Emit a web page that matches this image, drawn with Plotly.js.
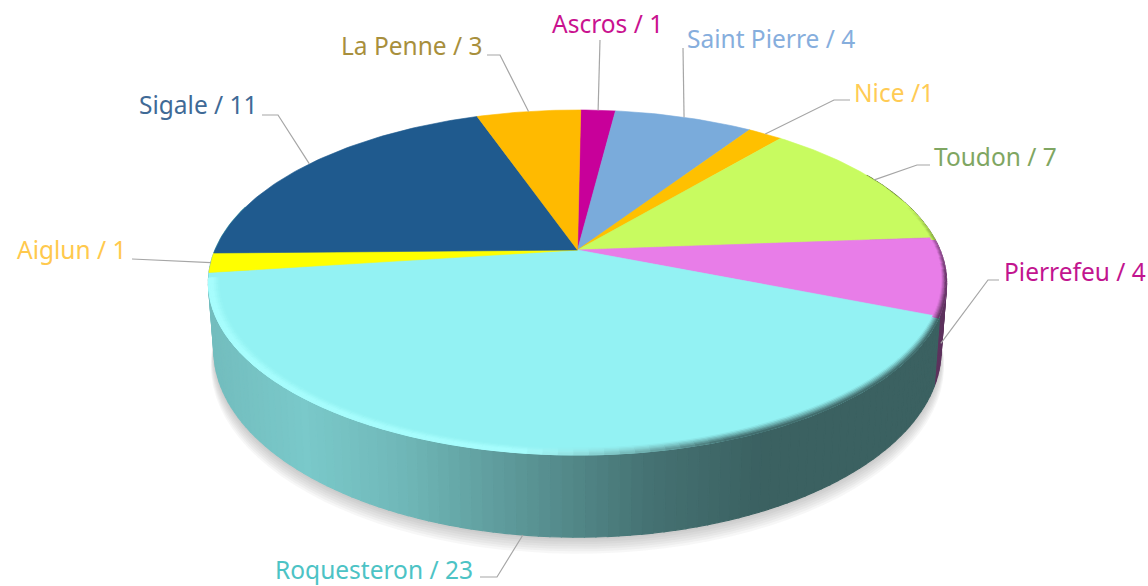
<!DOCTYPE html>
<html>
<head>
<meta charset="utf-8">
<script src="https://cdn.plot.ly/plotly-3.0.1.min.js"></script>
<style>html,body{margin:0;padding:0;background:#fff;overflow:hidden}#chart{width:1148px;height:586px}</style>
</head>
<body>
<div id="chart"></div>
<script>
// ---- data ----
var places = ["Ascros","Saint Pierre","Nice","Toudon","Pierrefeu","Roquesteron","Aiglun","Sigale","La Penne"];
var counts = [1,4,1,7,4,23,1,11,3];
var labels = ["Ascros / 1","Saint Pierre / 4","Nice /1","Toudon / 7","Pierrefeu / 4","Roquesteron / 23","Aiglun / 1","Sigale / 11","La Penne / 3"];
// ---- style ----
var sliceColors = ["#c8009a","#7aabdb","#ffc000","#c8fb60","#e87de8","#93f2f3","#ffff00","#1f5a8e","#ffba00"];
var textColors  = ["#c9128f","#86aedd","#ffcb55","#7fa662","#c2148f","#4cc3c5","#ffc94d","#3f6a96","#a88f3c"];
var labelX = [550,685,852,932,1002,273,15,137,339];
var labelY = [23,38,92,156,271,569,249,104,45];
var elbows = [[[600,40]],[[683,48]],[[834,100],[850,100]],[[917,165],[930,165]],[[988,280],[999,280]],
              [[497,577],[480,577]],[[132,259]],[[278,115],[262,115]],[[500,55],[487,55]]];
var anchorOnBase = [false,false,false,false,true,true,false,false,false];

// ---- geometry through value angles ----
var CX=577.5, CY=250, A=362.5, B=166.4, P=0.1884, BASE_DROP=65, BASE_STRETCH=1.1, BASE_SCALE=0.985, ROT=0.6;
function proj(deg,r,s){
  var t=(deg+ROT)*Math.PI/180, u=r*Math.sin(t), v=r*Math.cos(t), w=1+P*v;
  return [CX+s*A*u/w, CY-s*B*v/w];
}
function base(deg,grow,extra){
  var p=proj(deg,1,BASE_SCALE+grow);
  return [p[0], CY+(p[1]-CY)*BASE_STRETCH+BASE_DROP+extra];
}
function hex(c){return [parseInt(c.substr(1,2),16),parseInt(c.substr(3,2),16),parseInt(c.substr(5,2),16)];}
function mix(a,b,f){return [a[0]+(b[0]-a[0])*f,a[1]+(b[1]-a[1])*f,a[2]+(b[2]-a[2])*f];}
function css(c){return "rgb("+Math.round(c[0])+","+Math.round(c[1])+","+Math.round(c[2])+")";}
var shadeQ=[0,.13,.26,.4,.6,.75,1], shadeF=[.78,.83,.76,.64,.47,.40,.40];
function shade(q){
  for(var i=1;i<shadeQ.length;i++) if(q<=shadeQ[i]){
    var f=(q-shadeQ[i-1])/(shadeQ[i]-shadeQ[i-1]); return shadeF[i-1]+(shadeF[i]-shadeF[i-1])*f;}
  return shadeF[shadeF.length-1];
}
var total=counts.reduce(function(a,b){return a+b;},0);
var starts=[],c=0;
counts.forEach(function(v){starts.push(c/total*360);c+=v;});
var ends=starts.map(function(s,i){return s+counts[i]/total*360;});
function sliceOf(deg){for(var i=0;i<counts.length;i++) if(deg>=starts[i]&&deg<ends[i]) return i; return counts.length-1;}
var ROQ=places.indexOf("Roquesteron");

var traces=[];
function poly(pts,color,lw){
  traces.push({type:"scatter",mode:"lines",x:pts.map(function(p){return p[0];}),y:pts.map(function(p){return p[1];}),
    fill:"toself",fillcolor:color,line:{color:color,width:lw===undefined?0.6:lw},hoverinfo:"skip",showlegend:false});
}
function qOf(p){return (p[0]-207)/738;}

// soft shadow beneath the disc
for(var k=7;k>=1;k--){
  var sh=[];
  for(var d=0;d<360;d+=3) sh.push(base(d,k*0.0012,k*2.1));
  sh.push(sh[0]);
  poly(sh,"rgba(90,90,90,0.05)",0);
}
// side wall
var step=1.5;
for(var d=60;d<285;d+=step){
  var i=sliceOf(d+step/2);
  if(i>ROQ) i=ROQ;
  var col0=hex(sliceColors[i]);
  var a=proj(d,1,1), b=proj(d+step,1,1), e=base(d+step,0,0), f=base(d,0,0);
  var q=qOf([(a[0]+b[0])/2]);
  poly([a,b,e,f,a],css(mix([0,0,0],col0,shade(q))),1.2);
}
// top surface
places.forEach(function(name,i){
  var pts=[[CX,CY]];
  for(var d=starts[i];d<ends[i];d+=1) pts.push(proj(d,1,1));
  pts.push(proj(ends[i],1,1)); pts.push([CX,CY]);
  poly(pts,sliceColors[i]);
});
// bevelled rim on the front edge
var bands=[0.972,0.977,0.982,0.987,0.991,0.996,1.0], highlight=[170,255,255], rimStep=2;
for(var d=72;d<260;d+=rimStep){
  var i=sliceOf(d+rimStep/2), col0=hex(sliceColors[i]);
  var mid=proj(d+rimStep/2,1,1), q=qOf(mid);
  var wall=mix([0,0,0],col0,shade(q));
  var side=Math.max(0,Math.min(1,(q-0.42)/0.28));
  var fade=Math.max(0,Math.min(1,(d-72)/25));
  var narrow=d<180?0.35+0.65*Math.min(1,Math.max(0,(d-90)/60)):1;
  for(var j=0;j<bands.length-1;j++){
    var tr=(j+0.5)/(bands.length-1);
    var light=mix(col0,mix(col0,highlight,0.85),Math.min(1,tr*1.7));
    var dark=mix(col0,wall,tr);
    var col=mix(col0,mix(light,dark,side),fade);
    var r0=1-(1-bands[j])*narrow, r1=1-(1-bands[j+1])*narrow;
    poly([proj(d,r0,1),proj(d+rimStep,r0,1),proj(d+rimStep,r1,1),proj(d,r1,1),proj(d,r0,1)],css(col),1);
  }
}
// leader lines, starting on each slice's mid angle
places.forEach(function(name,i){
  var m=(starts[i]+ends[i])/2;
  var p=anchorOnBase[i]?base(m,0,0):proj(m,1,1);
  var pts=[p].concat(elbows[i]);
  traces.push({type:"scatter",mode:"lines",x:pts.map(function(q){return q[0];}),y:pts.map(function(q){return q[1];}),
    line:{color:"#a6a6a6",width:1.2},hoverinfo:"skip",showlegend:false});
});

var annotations=labels.map(function(t,i){
  return {x:labelX[i],y:labelY[i],xref:"x",yref:"y",text:t,showarrow:false,xanchor:"left",yanchor:"middle",
    font:{family:"Noto Sans, Open Sans, sans-serif",size:24.5,color:textColors[i]}};
});

Plotly.newPlot("chart",traces,{
  width:1148,height:586,margin:{l:0,r:0,t:0,b:0},paper_bgcolor:"#fff",plot_bgcolor:"#fff",showlegend:false,
  xaxis:{range:[0,1148],visible:false,fixedrange:true},
  yaxis:{range:[586,0],visible:false,fixedrange:true},
  annotations:annotations
},{displayModeBar:false,staticPlot:true});
</script>
</body>
</html>
